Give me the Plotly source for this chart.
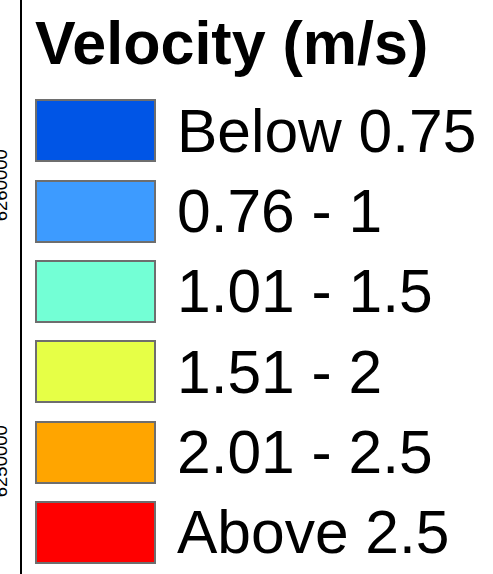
import plotly.graph_objects as go

# legend classes (velocity, m/s)
classes = ["Below 0.75", "0.76 - 1", "1.01 - 1.5", "1.51 - 2", "2.01 - 2.5", "Above 2.5"]
colors = ["#0055E6", "#3D9BFF", "#73FFD5", "#E6FF46", "#FFA500", "#FF0000"]

# northing tick labels of the (cropped) map axis
north_ticks = [6250000, 6260000]

W, H = 493, 574
row = list(range(len(classes)))

fig = go.Figure()

# legend swatches
fig.add_trace(go.Bar(
    y=row, x=[119] * len(row), base=36, orientation="h", width=0.76,
    marker=dict(color=colors, line=dict(color="#6E6E6E", width=2)),
    hoverinfo="skip", showlegend=False,
))

# labels (nudged a little to sit on the swatch centre)
fig.add_trace(go.Scatter(
    y=[r + 0.07 for r in row], x=[177] * len(row), mode="text", text=classes,
    textposition="middle right",
    textfont=dict(family="Liberation Sans, Arial", size=60.5, color="black"),
    hoverinfo="skip", showlegend=False,
))

# map edge axis (only the frame line and clipped tick labels show)
fig.add_trace(go.Scatter(x=[None], y=[None], yaxis="y2", showlegend=False))

fig.update_layout(
    width=W, height=H,
    margin=dict(l=0, r=0, t=0, b=0, autoexpand=False),
    paper_bgcolor="white", plot_bgcolor="white",
    xaxis=dict(range=[0, W], visible=False, fixedrange=True, automargin=False),
    yaxis=dict(range=[5.517, -1.631], visible=False, automargin=False),
    yaxis2=dict(
        overlaying="y", anchor="free", position=21 / W, side="left",
        automargin=False,
        range=[6246014, 6266812], tickvals=north_ticks,
        ticktext=[str(v) for v in north_ticks],
        showgrid=False, zeroline=False, showline=True,
        linecolor="black", linewidth=2, ticks="",
        tickangle=-90, ticklabelstandoff=6,
        tickfont=dict(family="Liberation Sans, Arial", size=18.5, color="black"),
    ),
    annotations=[dict(
        text="<b>Velocity (m/s)</b>", xref="paper", yref="paper",
        x=33 / W, y=1 - 7 / H, xanchor="left", yanchor="top", showarrow=False,
        font=dict(family="Liberation Sans, Arial", size=61, color="black"),
    )],
    bargap=0,
)

fig.write_html("out.html", config={"displayModeBar": False},
               post_script="document.body.style.margin='0';")
